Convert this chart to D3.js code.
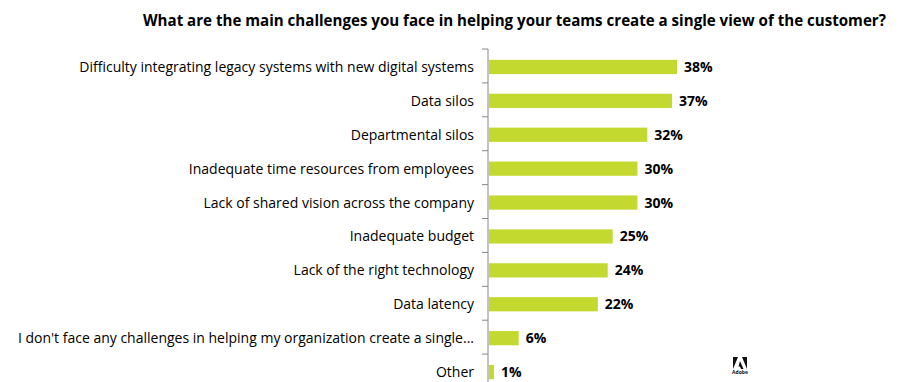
<!DOCTYPE html>
<html>
<head>
<meta charset="utf-8">
<script src="https://cdn.jsdelivr.net/npm/d3@7"></script>
<style>
  body { margin: 0; background: #fff; }
  svg { display: block; font-family: "Open Sans", sans-serif; }
</style>
</head>
<body>
<div id="chart"></div>
<script>
// chart data
var titleText = "What are the main challenges you face in helping your teams create a single view of the customer?";
var categories = [
  "Difficulty integrating legacy systems with new digital systems",
  "Data silos",
  "Departmental silos",
  "Inadequate time resources from employees",
  "Lack of shared vision across the company",
  "Inadequate budget",
  "Lack of the right technology",
  "Data latency",
  "I don't face any challenges in helping my organization create a single...",
  "Other"
];
var values = [38, 37, 32, 30, 30, 25, 24, 22, 6, 1];

var width = 912, height = 382;
var margin = {top: 49, left: 488};
var plotH = 339;

var svg = d3.select("#chart").append("svg")
  .attr("width", width)
  .attr("height", height);

// title
svg.append("text")
  .attr("x", 143)
  .attr("y", 26)
  .attr("font-weight", "bold")
  .attr("font-size", "15.1px")
  .attr("fill", "#000")
  .text(titleText);

var x = d3.scaleLinear()
  .domain([0, 38])
  .range([0, 188]);

var y = d3.scaleBand()
  .domain(categories)
  .range([0, plotH])
  .paddingInner(0.58)
  .paddingOuter(0.29);

var g = svg.append("g")
  .attr("transform", "translate(" + margin.left + "," + margin.top + ")");

// bars
g.selectAll(".bar")
  .data(values)
  .enter().append("rect")
  .attr("class", "bar")
  .attr("x", 1)
  .attr("y", function(d, i) { return y(categories[i]) + 1; })
  .attr("width", function(d) { return x(d); })
  .attr("height", y.bandwidth())
  .attr("fill", "#c3d930");

// value labels
g.selectAll(".val")
  .data(values)
  .enter().append("text")
  .attr("class", "val")
  .attr("x", function(d) { return x(d) + 8; })
  .attr("y", function(d, i) { return y(categories[i]) + 1 + y.bandwidth() / 2; })
  .attr("dy", "0.36em")
  .attr("font-weight", "bold")
  .attr("font-size", "14px")
  .attr("fill", "#000")
  .text(function(d) { return d + "%"; });

// category axis, ticks sit between the bands
var bounds = d3.range(categories.length + 1).map(function(i) { return i * plotH / categories.length; });
g.append("line")
  .attr("x1", 0).attr("x2", 0)
  .attr("y1", 0).attr("y2", plotH)
  .attr("stroke", "#868686");
g.selectAll(".tick")
  .data(bounds)
  .enter().append("line")
  .attr("x1", -6).attr("x2", 0)
  .attr("y1", function(d) { return d; })
  .attr("y2", function(d) { return d; })
  .attr("stroke", "#868686");

g.selectAll(".lab")
  .data(categories)
  .enter().append("text")
  .attr("class", "lab")
  .attr("x", -14)
  .attr("y", function(d) { return y(d) + 1 + y.bandwidth() / 2; })
  .attr("dy", "0.36em")
  .attr("text-anchor", "end")
  .attr("font-size", "14px")
  .attr("fill", "#000")
  .text(function(d) { return d; });

// small Adobe mark
var logo = svg.append("g").attr("transform", "translate(733,357)");
logo.append("path")
  .attr("d", "M0,0 L5,0 L0,12 Z M9,0 L14,0 L14,12 Z M7,4 L10.5,12 L8,12 L7,9.5 L5.5,9.5 Z")
  .attr("fill", "#111");
logo.append("text")
  .attr("x", 7)
  .attr("y", 17)
  .attr("text-anchor", "middle")
  .attr("font-size", "5px")
  .attr("font-weight", "bold")
  .attr("fill", "#111")
  .text("Adobe");
</script>
</body>
</html>
